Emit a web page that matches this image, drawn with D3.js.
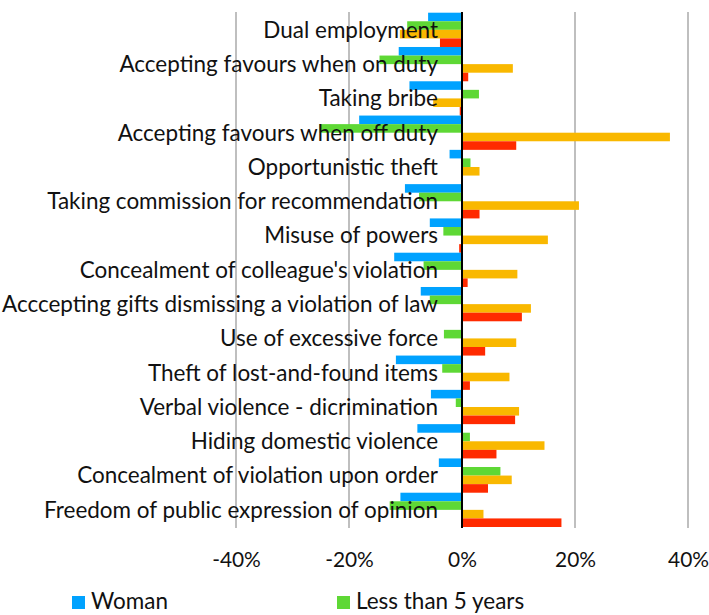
<!DOCTYPE html>
<html>
<head>
<meta charset="utf-8">
<script src="https://cdn.jsdelivr.net/npm/d3@7"></script>
<style>
  html, body { margin: 0; padding: 0; background: #fff; }
  svg { display: block; }
  text { font-family: Lato, "Open Sans", sans-serif; fill: #111; }
</style>
</head>
<body>
<svg id="chart" width="709" height="615"></svg>
<script>
const categories = [
  "Dual employment",
  "Accepting favours when on duty",
  "Taking bribe",
  "Accepting favours when off duty",
  "Opportunistic theft",
  "Taking commission for recommendation",
  "Misuse of powers",
  "Concealment of colleague's violation",
  "Acccepting gifts dismissing a violation of law",
  "Use of excessive force",
  "Theft of lost-and-found items",
  "Verbal violence - dicrimination",
  "Hiding domestic violence",
  "Concealment of violation upon order",
  "Freedom of public expression of opinion"
];
const seriesNames = ["Woman", "Less than 5 years", "Series 3", "Series 4"];
const woman      = [-6.0, -11.2, -9.3, -18.2, -2.2, -10.1, -5.7, -12.0, -7.3, -0.2, -11.7, -5.5, -7.9, -4.1, -10.9];
const lessThan5  = [-9.7, -14.6,  3.0, -25.2,  1.5,  -7.6, -3.3,  -6.8, -5.7, -3.2,  -3.5, -1.1,  1.4,  6.8, -12.8];
const series3    = [-11.0,  9.0, -5.1,  36.8,  3.1,  20.7, 15.2,   9.8, 12.2,  9.6,   8.4, 10.1, 14.6,  8.8,   3.8];
const series4    = [-3.9,   1.1, -0.4,   9.6,  0.0,   3.1, -0.5,   1.0, 10.6,  4.1,   1.4,  9.4,  6.1,  4.6,  17.6];
const tickValues = [-40, -20, 0, 20, 40];
const colors = ["#00A2FF", "#5ED835", "#F9B800", "#FF2A00"];
const legendShown = [0, 1];

const seriesValues = [woman, lessThan5, series3, series4];
const svg = d3.select("#chart");

const x = d3.scaleLinear().domain([-40, 40]).range([236, 688]);
const y = d3.scaleBand().domain(categories).range([12.7, 527]).paddingInner(0).paddingOuter(0);
const ySub = d3.scaleBand().domain(d3.range(4)).range([0, y.bandwidth()]);

// gridlines
svg.append("g").selectAll("line").data(tickValues.filter(d => d !== 0)).join("line")
  .attr("x1", d => x(d)).attr("x2", d => x(d))
  .attr("y1", 12).attr("y2", 528)
  .attr("stroke", "#BFBFBF").attr("stroke-width", 2);

// bars
const rows = categories.map((c, i) => ({ c, vals: seriesValues.map(s => s[i]) }));
const g = svg.append("g");
rows.forEach(r => {
  g.selectAll(null).data(r.vals.map((v, k) => ({ v, k }))).join("rect")
    .attr("x", d => Math.min(x(0), x(d.v)))
    .attr("width", d => Math.abs(x(d.v) - x(0)))
    .attr("y", d => y(r.c) + ySub(d.k))
    .attr("height", ySub.bandwidth())
    .attr("fill", d => colors[d.k]);
});

// zero axis
svg.append("line")
  .attr("x1", x(0)).attr("x2", x(0)).attr("y1", 12).attr("y2", 528)
  .attr("stroke", "#000").attr("stroke-width", 2);

// category labels
const labels = svg.append("g").selectAll("text").data(categories).join("text")
  .attr("x", 438)
  .attr("y", d => y(d) + y.bandwidth() / 2)
  .attr("dy", "0.35em")
  .attr("text-anchor", "end")
  .style("font-size", "20px")
  .text(d => d);
const probe = labels.filter(d => d === "Taking commission for recommendation").node();
const w = probe.getComputedTextLength();
const fs = 20 * 391 / w;
labels.style("font-size", fs + "px");

// x-axis tick labels
const xAxis = d3.axisBottom(x).tickValues(tickValues).tickSize(0).tickFormat(d => d + "%");
const ax = svg.append("g").attr("transform", "translate(0,549)").call(xAxis);
ax.select(".domain").remove();
ax.selectAll("text").style("font-size", (fs * 0.93) + "px").style("font-family", "Lato, 'Open Sans', sans-serif").attr("fill", "#111");

// legend
const legendX = [72, 337];
const leg = svg.append("g");
legendShown.forEach((k, i) => {
  leg.append("rect").attr("x", legendX[i]).attr("y", 596).attr("width", 13).attr("height", 13).attr("fill", colors[k]);
  leg.append("text").attr("x", legendX[i] + 19).attr("y", 609).style("font-size", fs + "px").text(seriesNames[k]);
});
</script>
</body>
</html>
